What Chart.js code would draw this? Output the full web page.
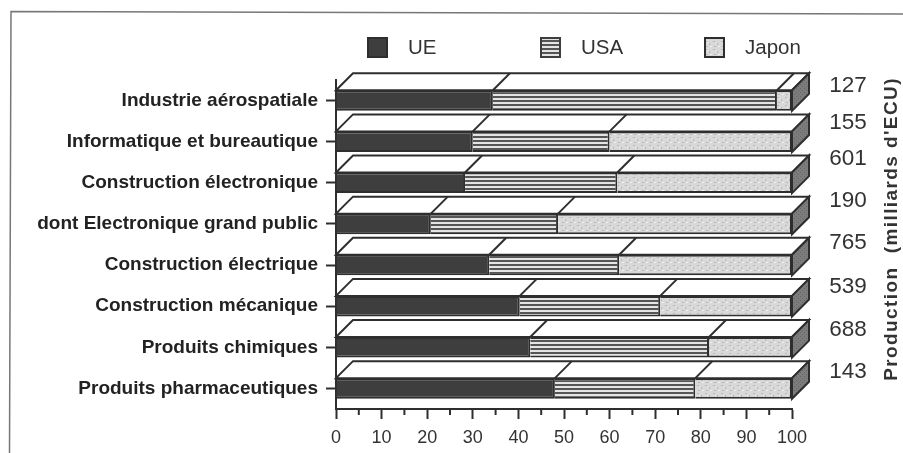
<!DOCTYPE html>
<html lang="fr">
<head>
  <meta charset="UTF-8" />
  <title>Production par secteur</title>
  <script src="https://cdn.jsdelivr.net/npm/chart.js@4"></script>
  <style>
    html, body { margin: 0; padding: 0; background: #fff; }
    canvas { display: block; filter: blur(0.4px); }
  </style>
</head>
<body>
  <canvas id="chart" width="903" height="453"></canvas>
  <script>
    const categories = [
      "Industrie aérospatiale",
      "Informatique et bureautique",
      "Construction électronique",
      "dont Electronique grand public",
      "Construction électrique",
      "Construction mécanique",
      "Produits chimiques",
      "Produits pharmaceutiques",
    ];
    const seriesNames = ["UE", "USA", "Japon"];
    const ue = [34.4, 30, 28.3, 20.8, 33.6, 40.3, 42.6, 48];
    const usa = [62.3, 30, 33.4, 27.9, 28.5, 30.8, 39.2, 30.8];
    const japon = [3.3, 40, 38.3, 51.3, 37.9, 28.9, 18.2, 21.2];
    const production = ["127", "155", "601", "190", "765", "539", "688", "143"];
    const xTicks = [0, 10, 20, 30, 40, 50, 60, 70, 80, 90, 100];

    // decalage vertical des valeurs de droite par rapport aux barres (scan)
    const prodNudge = [-15, -19, -24, -23, -22, -19, -18, -17];

    const ink = "#2e2e2e";
    const depth = 17;

    function makePattern(w, h, draw) {
      const c = document.createElement("canvas");
      c.width = w;
      c.height = h;
      draw(c.getContext("2d"));
      return c.getContext("2d").createPattern(c, "repeat");
    }

    const stripes = makePattern(4, 4, (g) => {
      g.fillStyle = "#e4e4e4";
      g.fillRect(0, 0, 4, 4);
      g.fillStyle = "#555";
      g.fillRect(0, 0, 4, 2);
    });

    const stipple = makePattern(8, 8, (g) => {
      g.fillStyle = "#d8d8d8";
      g.fillRect(0, 0, 8, 8);
      g.fillStyle = "#b8b8b8";
      g.fillRect(1, 1, 2, 1);
      g.fillRect(5, 3, 1, 2);
      g.fillRect(2, 6, 2, 1);
      g.fillStyle = "#f0f0f0";
      g.fillRect(6, 6, 2, 1);
      g.fillRect(3, 3, 1, 1);
    });

    const sideFill = makePattern(4, 4, (g) => {
      g.fillStyle = "#7c7c7c";
      g.fillRect(0, 0, 4, 4);
      g.fillStyle = "#666";
      g.fillRect(0, 0, 1, 1);
      g.fillRect(2, 2, 1, 1);
    });

    const fills = ["#3e3e3e", stripes, stipple];

    // Faces superieures et laterales des barres, cadre, legende et valeurs
    const decor = {
      id: "decor",
      beforeDatasetsDraw(chart) {
        const { ctx, scales } = chart;
        const x = scales.x;
        const y = scales.y;
        const x0 = x.getPixelForValue(0);
        const x100 = x.getPixelForValue(100);
        const half = chart.getDatasetMeta(0).data[0].height / 2;

        ctx.save();
        ctx.strokeStyle = ink;
        ctx.lineWidth = 2;
        categories.forEach((name, i) => {
          const top = y.getPixelForValue(i) - half;
          const bottom = top + half * 2;

          ctx.fillStyle = "#fff";
          ctx.beginPath();
          ctx.moveTo(x0, top);
          ctx.lineTo(x0 + depth, top - depth);
          ctx.lineTo(x100 + depth, top - depth);
          ctx.lineTo(x100, top);
          ctx.closePath();
          ctx.fill();
          ctx.stroke();

          ctx.fillStyle = sideFill;
          ctx.beginPath();
          ctx.moveTo(x100, top);
          ctx.lineTo(x100 + depth, top - depth);
          ctx.lineTo(x100 + depth, bottom - depth);
          ctx.lineTo(x100, bottom);
          ctx.closePath();
          ctx.fill();
          ctx.stroke();

          // aretes entre les segments
          [ue[i], ue[i] + usa[i]].forEach((v) => {
            const px = x.getPixelForValue(v);
            ctx.beginPath();
            ctx.moveTo(px, top);
            ctx.lineTo(px + depth, top - depth);
            ctx.stroke();
          });
        });
        ctx.restore();
      },
      afterDraw(chart) {
        const { ctx, scales } = chart;
        const x = scales.x;
        const y = scales.y;
        const bottom = chart.chartArea.bottom;

        ctx.save();
        // cadre du document scanne
        ctx.strokeStyle = "#777";
        ctx.lineWidth = 1.5;
        ctx.beginPath();
        ctx.moveTo(9.5, 453);
        ctx.lineTo(11, 11.5);
        ctx.lineTo(903, 14);
        ctx.stroke();

        // graduations intermediaires
        ctx.strokeStyle = ink;
        ctx.lineWidth = 2;
        xTicks.slice(0, -1).forEach((v) => {
          const px = x.getPixelForValue(v + 5);
          ctx.beginPath();
          ctx.moveTo(px, bottom);
          ctx.lineTo(px, bottom + 6);
          ctx.stroke();
        });

        // legende
        const boxX = [368, 541, 705];
        const textX = [408, 581, 745];
        seriesNames.forEach((name, i) => {
          ctx.fillStyle = fills[i];
          ctx.fillRect(boxX[i], 38, 19, 19);
          ctx.strokeStyle = i === 1 ? "#3e3e3e" : ink;
          ctx.lineWidth = 2;
          ctx.strokeRect(boxX[i], 38, 19, 19);
          ctx.fillStyle = "#333";
          ctx.font = "20.5px 'Liberation Sans'";
          ctx.textAlign = "left";
          ctx.textBaseline = "middle";
          ctx.fillText(name, textX[i], 48);
        });

        // valeurs de production
        ctx.fillStyle = "#333";
        ctx.font = "22.5px 'Liberation Sans'";
        ctx.textAlign = "center";
        production.forEach((val, i) => {
          ctx.fillText(val, 848, y.getPixelForValue(i) + prodNudge[i]);
        });

        ctx.translate(892, 229);
        ctx.rotate(-Math.PI / 2);
        ctx.font = "bold 19px 'Liberation Sans'";
        ctx.letterSpacing = "1.4px";
        ctx.fillText("Production  (milliards d'ECU)", 0, 0);
        ctx.restore();
      },
    };

    new Chart(document.getElementById("chart"), {
      type: "bar",
      data: {
        labels: categories,
        datasets: [
          { label: seriesNames[0], data: ue, backgroundColor: fills[0] },
          { label: seriesNames[1], data: usa, backgroundColor: fills[1] },
          { label: seriesNames[2], data: japon, backgroundColor: fills[2] },
        ].map((d) => ({
          ...d,
          borderColor: ink,
          borderWidth: 2,
          categoryPercentage: 1,
          barPercentage: 0.5,
        })),
      },
      options: {
        indexAxis: "y",
        responsive: false,
        animation: false,
        layout: { padding: { top: 80, right: 111, left: 0, bottom: 0 } },
        plugins: {
          legend: { display: false },
          tooltip: { enabled: false },
        },
        scales: {
          x: {
            stacked: true,
            min: 0,
            max: 100,
            afterFit: (s) => { s.height = 44; },
            border: { color: ink, width: 2 },
            grid: { drawOnChartArea: false, tickColor: ink, tickWidth: 2, tickLength: 10 },
            ticks: {
              stepSize: 10,
              maxRotation: 0,
              padding: 8,
              color: "#333",
              font: { family: "'Liberation Sans'", size: 18 },
            },
          },
          y: {
            stacked: true,
            afterFit: (s) => { s.width = 336; },
            border: { color: ink, width: 2 },
            grid: { offset: false, drawOnChartArea: false, tickColor: ink, tickWidth: 2, tickLength: 10 },
            ticks: {
              padding: 8,
              color: "#222",
              autoSkip: false,
              font: { family: "'Liberation Sans'", size: 19, weight: "bold" },
            },
          },
        },
      },
      plugins: [decor],
    });
  </script>
</body>
</html>
